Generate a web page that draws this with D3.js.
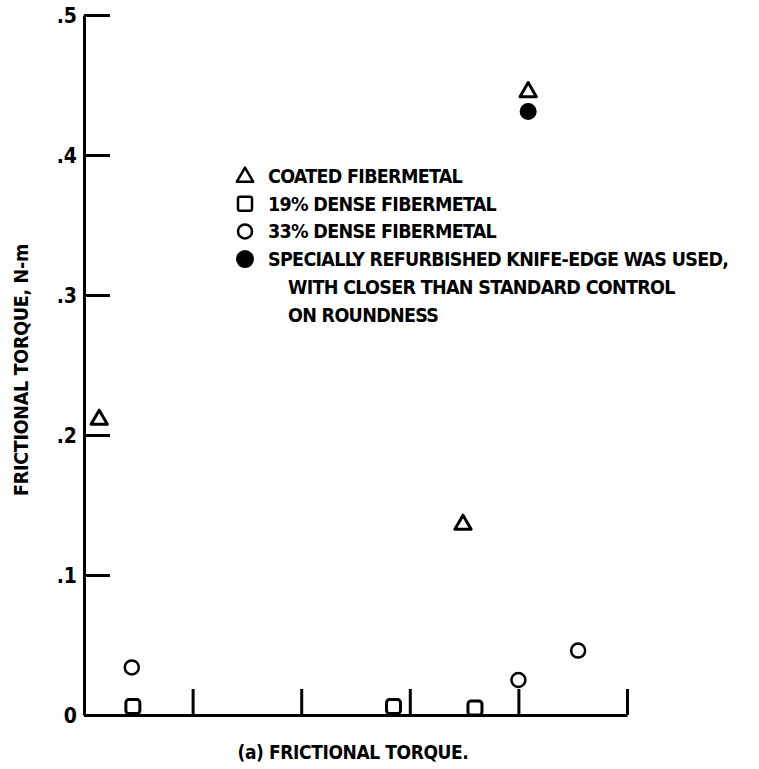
<!DOCTYPE html>
<html>
<head>
<meta charset="utf-8">
<script src="https://cdn.jsdelivr.net/npm/d3@7.9.0/dist/d3.min.js"></script>
<style>
  body { margin: 0; background: #fff; }
  svg text { font-family: "DejaVu Sans Condensed", "Liberation Sans Narrow", sans-serif; font-weight: bold; fill: #000; }
</style>
</head>
<body>
<svg id="chart" width="759" height="769"></svg>
<script>
// values
const yTicks = [0, 0.1, 0.2, 0.3, 0.4, 0.5];
const yTickLabels = ['0', '.1', '.2', '.3', '.4', '.5'];
const xTicks = [1, 2, 3, 4, 5];

const coatedX = [0.14, 3.49, 4.09];
const coatedY = [0.211, 0.136, 0.445];
const dense19X = [0.45, 2.85, 3.6];
const dense19Y = [0.006, 0.006, 0.005];
const dense33X = [0.44, 4.0, 4.55];
const dense33Y = [0.034, 0.025, 0.046];
const refurbX = [4.09];
const refurbY = [0.431];

const legendLines = [
  { sym: 'triangle', text: 'COATED FIBERMETAL' },
  { sym: 'square', text: '19% DENSE FIBERMETAL' },
  { sym: 'circle', text: '33% DENSE FIBERMETAL' },
  { sym: 'filled', text: 'SPECIALLY REFURBISHED KNIFE-EDGE WAS USED,' },
  { sym: null, text: 'WITH CLOSER THAN STANDARD CONTROL' },
  { sym: null, text: 'ON ROUNDNESS' }
];

const svg = d3.select('#chart');

const x = d3.scaleLinear().domain([0, 5]).range([84, 627]);
const y = d3.scaleLinear().domain([0, 0.5]).range([715, 15]);

// axes, ticks point inward
const yAxis = d3.axisLeft(y)
  .tickValues(yTicks)
  .tickFormat((d, i) => yTickLabels[i])
  .tickSizeInner(-26)
  .tickSizeOuter(0)
  .tickPadding(7);

const gy = svg.append('g').attr('transform', 'translate(84,0)').call(yAxis);
gy.selectAll('path, line').attr('stroke', '#000').attr('stroke-width', 3);
gy.selectAll('text').style('font-size', '21px').attr('dy', '0.36em');

const gx = svg.append('g').attr('transform', 'translate(0,715)')
  .call(d3.axisBottom(x).tickValues(xTicks).tickFormat('').tickSizeInner(-26).tickSizeOuter(0));
gx.selectAll('path, line').attr('stroke', '#000').attr('stroke-width', 3);

// marker helpers
const triangle = d3.symbol().type(d3.symbolTriangle).size(115);

function drawTriangles(xs, ys) {
  svg.append('g').selectAll('path').data(xs).join('path')
    .attr('d', triangle)
    .attr('transform', (d, i) => `translate(${x(d)},${y(ys[i])})`)
    .attr('fill', 'none').attr('stroke', '#000').attr('stroke-width', 3)
    .attr('stroke-linejoin', 'round');
}
function drawSquares(xs, ys) {
  svg.append('g').selectAll('rect').data(xs).join('rect')
    .attr('x', d => x(d) - 7).attr('y', (d, i) => y(ys[i]) - 7)
    .attr('width', 14).attr('height', 14).attr('rx', 3)
    .attr('fill', 'none').attr('stroke', '#000').attr('stroke-width', 3);
}
function drawCircles(xs, ys, filled) {
  svg.append('g').selectAll('circle').data(xs).join('circle')
    .attr('cx', d => x(d)).attr('cy', (d, i) => y(ys[i]))
    .attr('r', filled ? 8.5 : 7)
    .attr('fill', filled ? '#000' : 'none')
    .attr('stroke', '#000').attr('stroke-width', filled ? 0 : 2.5);
}

drawTriangles(coatedX, coatedY);
drawSquares(dense19X, dense19Y);
drawCircles(dense33X, dense33Y, false);
drawCircles(refurbX, refurbY, true);

// legend
const legend = svg.append('g').attr('transform', 'translate(245,176)');
legendLines.forEach((d, i) => {
  const g = legend.append('g').attr('transform', `translate(0,${i * 27.7})`);
  if (d.sym === 'triangle') {
    g.append('path').attr('d', triangle).attr('transform', 'translate(0,1)')
      .attr('fill', 'none').attr('stroke', '#000').attr('stroke-width', 2.5)
      .attr('stroke-linejoin', 'round');
  } else if (d.sym === 'square') {
    g.append('rect').attr('x', -7).attr('y', -7).attr('width', 14).attr('height', 14).attr('rx', 2)
      .attr('fill', 'none').attr('stroke', '#000').attr('stroke-width', 2.5);
  } else if (d.sym === 'circle') {
    g.append('circle').attr('r', 7).attr('fill', 'none').attr('stroke', '#000').attr('stroke-width', 2.5);
  } else if (d.sym === 'filled') {
    g.append('circle').attr('r', 9).attr('fill', '#000');
  }
  g.append('text')
    .attr('x', d.sym ? 23 : 43)
    .attr('dy', '0.36em')
    .style('font-size', '19.5px')
    .style('letter-spacing', '-0.7px')
    .text(d.text);
});

// axis title and caption
svg.append('text')
  .attr('transform', 'translate(21,370) rotate(-90)')
  .attr('text-anchor', 'middle')
  .attr('dy', '0.36em')
  .style('font-size', '19.5px')
  .style('letter-spacing', '-0.3px')
  .text('FRICTIONAL TORQUE, N-m');

svg.append('text')
  .attr('x', 353).attr('y', 752)
  .attr('text-anchor', 'middle')
  .attr('dy', '0.36em')
  .style('font-size', '19px')
  .style('letter-spacing', '-0.4px')
  .text('(a) FRICTIONAL TORQUE.');
</script>
</body>
</html>
